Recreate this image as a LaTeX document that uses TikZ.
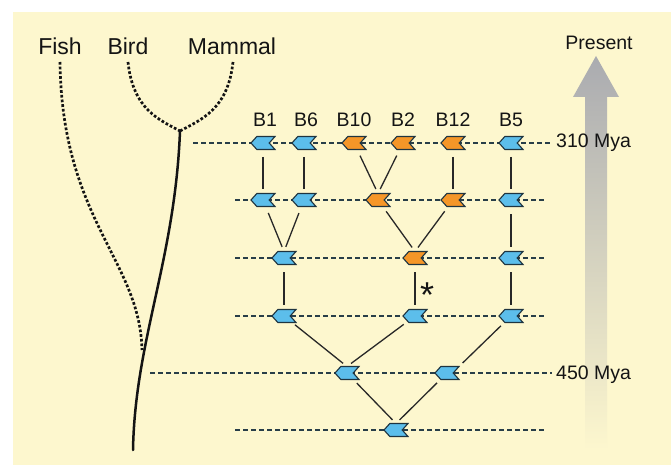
\documentclass[tikz,border=0pt]{standalone}
\usepackage{fontspec}
\setmainfont{Liberation Sans}
\definecolor{bg}{RGB}{253,247,206}
\definecolor{gblue}{RGB}{92,190,235}
\definecolor{gorange}{RGB}{245,150,40}
\definecolor{edgec}{RGB}{30,52,64}
\definecolor{dashc}{RGB}{40,62,72}
\definecolor{linec}{RGB}{40,40,40}
\definecolor{txt}{RGB}{20,20,20}
\definecolor{arrowgray}{RGB}{170,171,176}
\begin{document}
\begin{tikzpicture}[x=1pt,y=-1pt,
  gene/.style={minimum width=24pt, minimum height=13pt, inner sep=0pt, outer sep=0pt},
  genebody/.style={fill=#1, draw=edgec, line width=1.1pt, line join=miter},
  row/.style={draw=dashc, line width=1.7pt, dash pattern=on 5pt off 3pt},
  conn/.style={draw=linec, line width=1.3pt, shorten <=14pt, shorten >=5pt},
  dots/.style={line width=2.7pt, dash pattern=on 2.7pt off 2pt, draw=txt},
  spec/.style={font=\fontsize{23}{26}\selectfont, text=txt, inner sep=0pt},
  lab/.style={font=\fontsize{19.5}{22}\selectfont, text=txt, inner sep=0pt}]
\useasboundingbox (0,0) rectangle (671,465);
\fill[white] (0,0) rectangle (671,465);
\fill[bg] (13,12) rectangle (671,465);
% time arrow
\shade[top color=arrowgray, middle color=arrowgray!85!bg, bottom color=bg]
  (596,56) -- (619,97) -- (607,97) -- (607,450) -- (585,450) -- (585,97) -- (573,97) -- cycle;
% labels
\node[spec] (fish) at (60,46) {Fish};
\node[spec] (bird) at (128,46) {Bird};
\node[spec] (mammal) at (232,46) {Mammal};
\node[lab] (present) at (599,43) {Present};
\node[lab, anchor=west] (t310) at (556,143) {310 Mya};
\node[lab, anchor=west] (t450) at (556,375) {450 Mya};
\node[lab] (lB1) at (265,120) {B1};
\node[lab] (lB6) at (306,120) {B6};
\node[lab] (lB10) at (354,120) {B10};
\node[lab] (lB2) at (403,120) {B2};
\node[lab] (lB12) at (453,120) {B12};
\node[lab] (lB5) at (511,120) {B5};
% species tree
\coordinate (root) at (180,131);
\coordinate (fishjoin) at (142,350);
\draw[dots] (60,62) .. controls (62,220) and (140,260) .. (fishjoin);
\draw[dots] (128,62) .. controls (133,110) and (160,120) .. (root);
\draw[dots] (233,62) .. controls (228,110) and (200,120) .. (root);
\draw[line width=2.5pt, draw=txt, line cap=round] (root) .. controls (175,260) and (135,340) .. (133,450);
% gene nodes
\node[gene] (a1) at (263,143) {};
\node[gene] (a2) at (304,143) {};
\node[gene] (a3) at (354,143) {};
\node[gene] (a4) at (403,143) {};
\node[gene] (a5) at (453,143) {};
\node[gene] (a6) at (511,143) {};
\node[gene] (b1) at (263,200) {};
\node[gene] (b2) at (304,200) {};
\node[gene] (b3) at (378,200) {};
\node[gene] (b4) at (453,200) {};
\node[gene] (b5) at (511,200) {};
\node[gene] (c1) at (284,258) {};
\node[gene] (c2) at (415,258) {};
\node[gene] (c3) at (511,258) {};
\node[gene] (d1) at (284,316) {};
\node[gene] (d2) at (415,316) {};
\node[gene] (d3) at (511,316) {};
\node[gene] (e1) at (347,373) {};
\node[gene] (e2) at (447,373) {};
\node[gene] (f1) at (396,430) {};
% dashed time lines
\draw[row] (193,143) -- (552,143);
\draw[row] (235,200) -- (545,200);
\draw[row] (235,258) -- (545,258);
\draw[row] (235,316) -- (545,316);
\draw[row] (150,373) -- (552,373);
\draw[row] (235,430) -- (545,430);
% connectors
\foreach \s/\t in {a1/b1,a2/b2,a3/b3,a4/b3,a5/b4,a6/b5,b1/c1,b2/c1,b3/c2,b4/c2,b5/c3,c1/d1,c2/d2,c3/d3,d1/e1,d2/e1,e1/f1,e2/f1}
  \draw[conn] (\s.center) -- (\t.north);
\draw[conn] (d3.center) -- (e2.north east);
\node[font=\fontsize{36}{36}\selectfont, text=txt, anchor=base, inner sep=0pt] (star) at (427,307) {*};
% gene shapes
\foreach \n/\c in {a1/gblue,a2/gblue,a3/gorange,a4/gorange,a5/gorange,a6/gblue,
  b1/gblue,b2/gblue,b3/gorange,b4/gorange,b5/gblue,c1/gblue,c2/gorange,c3/gblue,
  d1/gblue,d2/gblue,d3/gblue,e1/gblue,e2/gblue,f1/gblue}
  \filldraw[genebody=\c] ([xshift=-12pt]\n.center) -- ++(5.8,-6.5) -- ++(18.2,0) -- ++(-5.8,6.5) -- ++(5.8,6.5) -- ++(-18.2,0) -- cycle;
\end{tikzpicture}
\end{document}
